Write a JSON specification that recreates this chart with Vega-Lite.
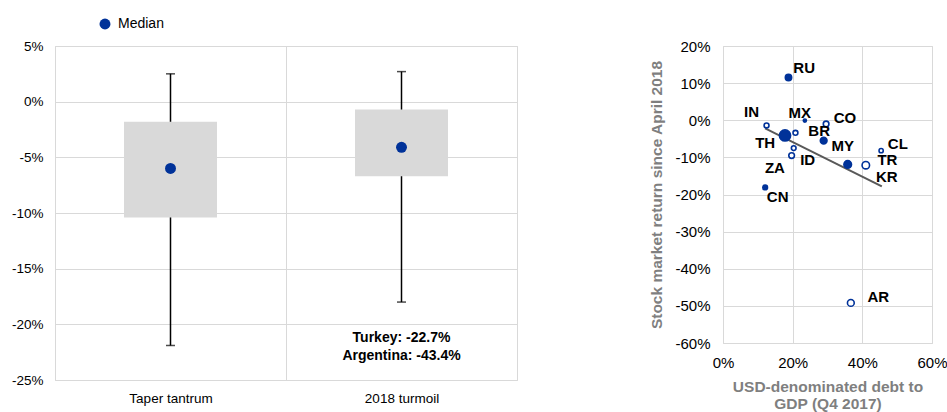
{
  "$schema": "https://vega.github.io/schema/vega-lite/v6.json",
  "padding": {"left": 10, "top": 17, "right": 0, "bottom": 0},
  "bounds": "flush",
  "spacing": 206,
  "config": {
    "font": "Liberation Sans",
    "view": {"stroke": "#d9d9d9"},
    "axis": {"gridColor": "#d9d9d9", "domain": false, "ticks": false, "labelColor": "#000000", "labelFont": "Liberation Sans", "titleFont": "Liberation Sans", "labelOverlap": false, "labelFlush": false},
    "legend": {"padding": 0}
  },
  "datasets": {
    "box": [
      {"cat": "Taper tantrum", "min": -21.9, "q1": -10.4, "median": -6.0, "q3": -1.8, "max": 2.5},
      {"cat": "2018 turmoil", "min": -18.0, "q1": -6.7, "median": -4.1, "q3": -0.7, "max": 2.7}
    ],
    "annot": [
      {"cat": "2018 turmoil", "y": -21.2, "label": "Turkey: -22.7%"},
      {"cat": "2018 turmoil", "y": -22.85, "label": "Argentina: -43.4%"}
    ],
    "pts": [
      {"c": "RU", "x": 18.8, "y": 11.5, "g": "filled", "w": 40, "lx": 23.3, "ly": 14.0},
      {"c": "IN", "x": 12.5, "y": -1.4, "g": "open", "w": 24, "lx": 8.2, "ly": 2.2},
      {"c": "MX", "x": 23.5, "y": -0.1, "g": "filled", "w": 10, "lx": 22.0, "ly": 2.0},
      {"c": "CO", "x": 29.6, "y": -1.0, "g": "open", "w": 32, "lx": 35.0, "ly": 0.6},
      {"c": "TH", "x": 17.8, "y": -4.1, "g": "filled", "w": 125, "lx": 12.1, "ly": -6.1},
      {"c": "BR", "x": 20.8, "y": -3.4, "g": "open", "w": 24, "lx": 27.6, "ly": -3.0},
      {"c": "MY", "x": 28.9, "y": -5.5, "g": "filled", "w": 45, "lx": 34.4, "ly": -7.0},
      {"c": "ID", "x": 20.3, "y": -7.5, "g": "open", "w": 22, "lx": 24.3, "ly": -10.6},
      {"c": "ZA", "x": 19.7, "y": -9.5, "g": "open", "w": 32, "lx": 14.9, "ly": -12.9},
      {"c": "KR", "x": 35.8, "y": -11.9, "g": "filled", "w": 58, "lx": 47.0, "ly": -15.4},
      {"c": "TR", "x": 41.0, "y": -12.1, "g": "open", "w": 56, "lx": 47.2, "ly": -10.6},
      {"c": "CL", "x": 45.4, "y": -8.2, "g": "open", "w": 18, "lx": 50.2, "ly": -6.4},
      {"c": "CN", "x": 12.1, "y": -18.1, "g": "filled", "w": 22, "lx": 15.7, "ly": -20.7},
      {"c": "AR", "x": 36.7, "y": -49.2, "g": "open", "w": 46, "lx": 44.6, "ly": -47.6}
    ],
    "trend": [
      {"x": 12.1, "y": -2.2},
      {"x": 45.6, "y": -17.8}
    ]
  },
  "hconcat": [
    {
      "width": 462,
      "height": 334,
      "data": {"name": "box"},
      "encoding": {
        "x": {"field": "cat", "type": "nominal", "sort": ["Taper tantrum", "2018 turmoil"],
              "scale": {"paddingInner": 0, "paddingOuter": 0},
              "axis": {"title": null, "labelAngle": 0, "tickBand": "extent", "grid": true, "labelFontSize": 13.5, "labelPadding": 11}}
      },
      "layer": [
        {
          "mark": {"type": "rule", "color": "#000000", "strokeWidth": 1.5},
          "encoding": {
            "y": {"field": "min", "type": "quantitative", "scale": {"domain": [-25, 5], "nice": false},
                  "axis": {"title": null, "values": [-25, -20, -15, -10, -5, 0, 5], "labelExpr": "datum.value + '%'", "labelFontSize": 13.5, "labelPadding": 12, "grid": true}},
            "y2": {"field": "max"}
          }
        },
        {
          "mark": {"type": "bar", "color": "#d9d9d9", "width": 93},
          "encoding": {
            "y": {"field": "q1", "type": "quantitative", "axis": {"title": null, "values": [-25, -20, -15, -10, -5, 0, 5], "labelExpr": "datum.value + '%'", "labelFontSize": 13.5, "labelPadding": 12, "grid": true}},
            "y2": {"field": "q3"}
          }
        },
        {
          "mark": {"type": "tick", "color": "#000000", "thickness": 1.5, "size": 9},
          "encoding": {"y": {"field": "min", "type": "quantitative", "axis": {"title": null, "values": [-25, -20, -15, -10, -5, 0, 5], "labelExpr": "datum.value + '%'", "labelFontSize": 13.5, "labelPadding": 12, "grid": true}}}
        },
        {
          "mark": {"type": "tick", "color": "#000000", "thickness": 1.5, "size": 9},
          "encoding": {"y": {"field": "max", "type": "quantitative", "axis": {"title": null, "values": [-25, -20, -15, -10, -5, 0, 5], "labelExpr": "datum.value + '%'", "labelFontSize": 13.5, "labelPadding": 12, "grid": true}}}
        },
        {
          "mark": {"type": "circle", "size": 120, "opacity": 1},
          "encoding": {
            "y": {"field": "median", "type": "quantitative", "axis": {"title": null, "values": [-25, -20, -15, -10, -5, 0, 5], "labelExpr": "datum.value + '%'", "labelFontSize": 13.5, "labelPadding": 12, "grid": true}},
            "color": {"datum": "Median", "type": "nominal", "scale": {"range": ["#003299"]},
                      "legend": {"orient": "none", "legendX": 43, "legendY": -29, "title": null, "labelFontSize": 14, "symbolSize": 120, "symbolType": "circle", "symbolOpacity": 1, "labelOffset": 6, "labelColor": "#000000"}}
          }
        },
        {
          "data": {"name": "annot"},
          "mark": {"type": "text", "fontWeight": "bold", "fontSize": 14, "color": "#000000"},
          "encoding": {
            "y": {"field": "y", "type": "quantitative", "axis": {"title": null, "values": [-25, -20, -15, -10, -5, 0, 5], "labelExpr": "datum.value + '%'", "labelFontSize": 13.5, "labelPadding": 12, "grid": true}},
            "text": {"field": "label"}
          }
        }
      ]
    },
    {
      "width": 209,
      "height": 297,
      "layer": [
        {
          "data": {"name": "trend"},
          "mark": {"type": "line", "color": "#595959", "strokeWidth": 2},
          "encoding": {
            "x": {"field": "x", "type": "quantitative", "scale": {"domain": [0, 60], "nice": false},
                  "axis": {"title": ["USD-denominated debt to", "GDP (Q4 2017)"], "values": [0, 20, 40, 60], "labelExpr": "datum.value + '%'", "labelFontSize": 15, "labelPadding": 12, "titlePadding": 9, "titleFontSize": 15.5, "titleFontWeight": "bold", "titleColor": "#7f7f7f", "titleLineHeight": 17, "grid": true}},
            "y": {"field": "y", "type": "quantitative", "scale": {"domain": [-60, 20], "nice": false},
                  "axis": {"title": "Stock market return since April 2018", "values": [-60, -50, -40, -30, -20, -10, 0, 10, 20], "labelExpr": "datum.value + '%'", "labelFontSize": 15, "labelPadding": 13, "titlePadding": 10, "titleFontSize": 15.5, "titleFontWeight": "bold", "titleColor": "#7f7f7f", "grid": true}}
          }
        },
        {
          "data": {"name": "pts"},
          "mark": {"type": "circle", "stroke": "#003299", "strokeWidth": 1.6, "opacity": 1},
          "encoding": {
            "x": {"field": "x", "type": "quantitative",
                  "axis": {"title": ["USD-denominated debt to", "GDP (Q4 2017)"], "values": [0, 20, 40, 60], "labelExpr": "datum.value + '%'", "labelFontSize": 15, "labelPadding": 12, "titlePadding": 9, "titleFontSize": 15.5, "titleFontWeight": "bold", "titleColor": "#7f7f7f", "titleLineHeight": 17, "grid": true}},
            "y": {"field": "y", "type": "quantitative",
                  "axis": {"title": "Stock market return since April 2018", "values": [-60, -50, -40, -30, -20, -10, 0, 10, 20], "labelExpr": "datum.value + '%'", "labelFontSize": 15, "labelPadding": 13, "titlePadding": 10, "titleFontSize": 15.5, "titleFontWeight": "bold", "titleColor": "#7f7f7f", "grid": true}},
            "fill": {"field": "g", "type": "nominal", "scale": {"domain": ["filled", "open"], "range": ["#003299", "#ffffff"]}, "legend": null},
            "size": {"field": "w", "type": "quantitative", "scale": {"domain": [0, 120], "range": [0, 120]}, "legend": null}
          }
        },
        {
          "data": {"name": "pts"},
          "mark": {"type": "text", "fontWeight": "bold", "fontSize": 15, "color": "#000000"},
          "encoding": {
            "x": {"field": "lx", "type": "quantitative",
                  "axis": {"title": ["USD-denominated debt to", "GDP (Q4 2017)"], "values": [0, 20, 40, 60], "labelExpr": "datum.value + '%'", "labelFontSize": 15, "labelPadding": 12, "titlePadding": 9, "titleFontSize": 15.5, "titleFontWeight": "bold", "titleColor": "#7f7f7f", "titleLineHeight": 17, "grid": true}},
            "y": {"field": "ly", "type": "quantitative",
                  "axis": {"title": "Stock market return since April 2018", "values": [-60, -50, -40, -30, -20, -10, 0, 10, 20], "labelExpr": "datum.value + '%'", "labelFontSize": 15, "labelPadding": 13, "titlePadding": 10, "titleFontSize": 15.5, "titleFontWeight": "bold", "titleColor": "#7f7f7f", "grid": true}},
            "text": {"field": "c"}
          }
        }
      ]
    }
  ]
}
